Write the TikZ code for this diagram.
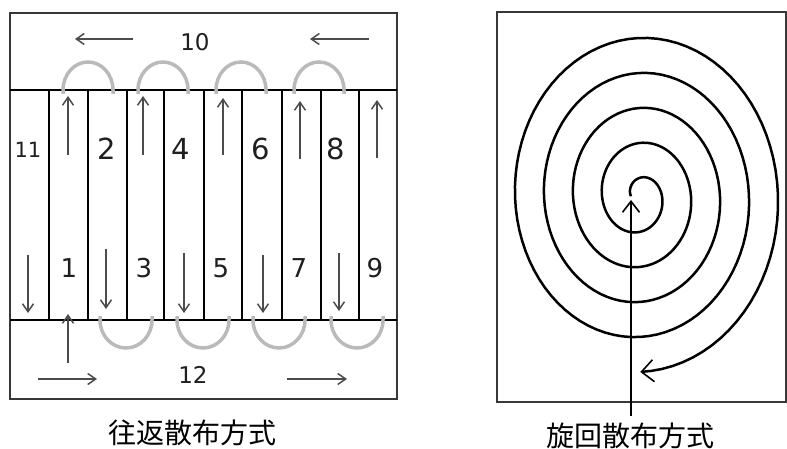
\documentclass[tikz,border=0pt]{standalone}
\usepackage{fontspec}
\setmainfont{DejaVu Sans}
\newfontfamily\cjk{Noto Sans CJK JP}
\usetikzlibrary{arrows.meta}
\begin{document}
\begin{tikzpicture}[x=1pt,y=-1pt,
  frame/.style={draw=black!78, line width=1.8pt},
  divider/.style={draw=black, line width=1.3pt},
  flow/.style={draw=black!70, line width=1.8pt, -{Straight Barb[length=8pt,width=11pt,line width=1.5pt]}},
  turnarc/.style={draw=black!27, line width=3.5pt},
  num/.style={inner sep=0pt, text=black!88},
  captext/.style={inner sep=0pt, font=\cjk\fontsize{28}{28}\selectfont},
  spiral/.style={draw=black, line width=2.5pt},
  bigarrow/.style={draw=black, line width=2.5pt, -{Straight Barb[length=11pt,width=17pt,line width=1.6pt]}}]
\useasboundingbox (0,0) rectangle (787,449);
% ---------------- left panel ----------------
\draw[frame] (10,13) rectangle (397,399);
\draw[divider] (10,90) -- (397,90);
\draw[divider] (10,320) -- (397,320);
\foreach \xx in {49,88,127,164,204,242,282,321,359}
  \draw[divider] (\xx,90) -- (\xx,320);
% grey turning arcs
\foreach \cx in {88,163,241,319}
  \draw[turnarc] (\cx-25,94) -- (\cx-25,90) arc[start angle=180,end angle=360,x radius=25,y radius=28] -- (\cx+25,94);
\foreach \cx in {126,203,279,357}
  \draw[turnarc] (\cx-26,316) -- (\cx-26,320) arc[start angle=180,end angle=0,x radius=26,y radius=28] -- (\cx+26,316);
% vertical arrows
\foreach \xx/\yb/\yt in {68/155/96,143/155/96,223/155/98,300/159/101,377/158/100}
  \draw[flow] (\xx,\yb) -- (\xx,\yt);
\foreach \xx/\yt/\yb in {28/255/313,106/249/309,184/253/313,263/255/313,339/253/311}
  \draw[flow] (\xx,\yt) -- (\xx,\yb);
\draw[flow] (68,363) -- (68,314);
% horizontal arrows
\draw[flow] (133,39) -- (75,39);
\draw[flow] (369,39) -- (310,39);
\draw[flow] (38,379) -- (97,379);
\draw[flow] (287,379) -- (347,379);
% labels
\node[num, font=\fontsize{23}{23}\selectfont] (n10) at (195,42) {10};
\node[num, font=\fontsize{23}{23}\selectfont] (n12) at (193,375) {12};
\node[num, font=\fontsize{21}{21}\selectfont] (n11) at (28,150) {11};
\foreach \lab/\xx in {2/107,4/181,6/261,8/336}
  \node[num, font=\fontsize{29}{29}\selectfont] (n\lab) at (\xx,149) {\lab};
\foreach \lab/\xx in {1/69,3/144,5/221,7/299,9/375}
  \node[num, font=\fontsize{26}{26}\selectfont] (n\lab) at (\xx,268) {\lab};
\node[captext] (capL) at (192,433) {往返散布方式};
% ---------------- right panel ----------------
\draw[frame] (497,12) rectangle (786,402);
\draw[spiral, -{Straight Barb[length=12pt,width=22pt,line width=1.6pt]}]
  plot[domain=0:4.75, samples=400]
  ({639.25 + (8.25+29*\x)*cos(180-360*\x)}, {196.25 - (9.5+35*\x)*sin(180-360*\x)});
\coordinate (core) at (631,200);
\coordinate (foot) at (631,416);
\draw[bigarrow] (foot) -- (core);
\node[captext] (capR) at (630,436) {旋回散布方式};
\end{tikzpicture}
\end{document}
